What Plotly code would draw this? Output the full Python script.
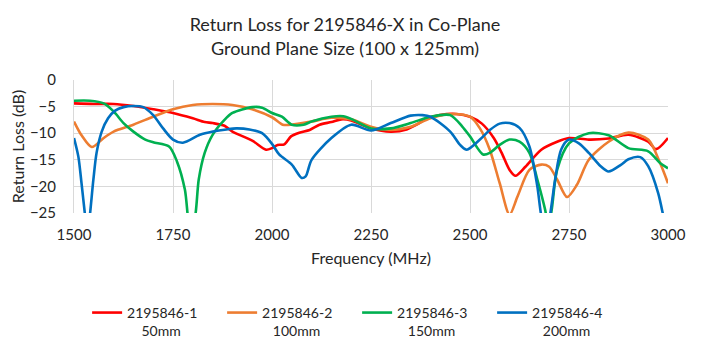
"""Return loss chart for 2195846-X in co-plane."""
import plotly.graph_objects as go

FONT = "Lato"
TEXT = "#262626"

# series 1 - 50mm
red_freq = [1500, 1550, 1600, 1650, 1700, 1750, 1800, 1830, 1850, 1880, 1900, 1950, 1985,
            2000, 2014, 2031, 2048, 2069, 2095, 2120, 2150, 2175, 2200, 2250, 2300, 2340,
            2365, 2387, 2424, 2466, 2500, 2530, 2560, 2580, 2600, 2615, 2640, 2680, 2720,
            2750, 2800, 2850, 2900, 2950, 2970, 3000]
red_rl = [-4.4, -4.5, -4.5, -4.9, -5.5, -6.2, -7.2, -7.9, -8.1, -8.6, -9.7, -11.4, -13.1,
          -12.8, -12.2, -12.1, -10.6, -9.9, -9.4, -8.4, -7.9, -7.4, -7.6, -9.1, -9.7, -9.3,
          -8.4, -7.4, -6.6, -6.4, -6.9, -8.2, -10.9, -13.7, -16.9, -18.0, -16.3, -13.1, -11.6,
          -10.9, -11.2, -11.0, -10.3, -11.6, -13.0, -10.9]

# series 2 - 100mm
orange_freq = [1500, 1520, 1545, 1575, 1600, 1650, 1700, 1750, 1800, 1850, 1900, 1950, 2000,
               2027, 2050, 2100, 2150, 2200, 2250, 2300, 2350, 2400, 2450, 2500, 2525, 2550,
               2575, 2600, 2620, 2650, 2680, 2700, 2720, 2745, 2770, 2800, 2850, 2900, 2950,
               2980, 3000]
orange_rl = [-7.8, -10.5, -12.6, -10.9, -9.7, -8.4, -6.9, -5.5, -4.7, -4.5, -4.7, -5.5, -7.0,
             -8.4, -8.4, -7.8, -7.1, -7.4, -8.8, -9.4, -8.8, -7.2, -6.4, -6.9, -9.1, -13.1,
             -19.4, -25.3, -21.9, -16.9, -15.9, -16.3, -18.7, -22.0, -19.7, -15.0, -11.6, -9.9,
             -11.2, -15.6, -19.4]

# series 3 - 150mm
green_freq = [1500, 1540, 1575, 1600, 1625, 1650, 1680, 1700, 1740, 1760, 1780, 1793, 1805,
              1815, 1830, 1850, 1880, 1900, 1950, 1975, 2000, 2025, 2050, 2080, 2100, 2150,
              2180, 2200, 2250, 2300, 2350, 2400, 2450, 2480, 2500, 2533, 2550, 2575, 2600,
              2625, 2650, 2670, 2690, 2698, 2707, 2720, 2750, 2800, 2850, 2900, 2950, 2980, 3000]
green_rl = [-3.9, -3.9, -4.4, -5.9, -8.1, -9.7, -11.2, -11.7, -12.5, -15.3, -20.6, -28.0,
            -26.0, -18.7, -13.7, -10.3, -7.5, -6.2, -5.1, -5.2, -6.2, -6.9, -8.4, -8.4, -7.8,
            -6.9, -6.8, -7.3, -9.1, -9.1, -8.1, -6.9, -6.6, -8.7, -10.6, -14.0, -13.7, -12.2,
            -11.2, -11.6, -13.7, -18.7, -24.5, -28.0, -24.0, -16.9, -11.9, -10.0, -10.4, -12.8,
            -13.4, -15.6, -16.6]

# series 4 - 200mm
blue_freq = [1500, 1511, 1519, 1528, 1534, 1540, 1549, 1557, 1570, 1586, 1603, 1625, 1650,
             1675, 1700, 1725, 1750, 1775, 1818, 1851, 1885, 1910, 1943, 1975, 2000, 2018,
             2050, 2075, 2085, 2100, 2150, 2200, 2250, 2300, 2350, 2380, 2400, 2450, 2475,
             2492, 2525, 2550, 2575, 2600, 2625, 2650, 2670, 2680, 2692, 2702, 2715, 2730,
             2750, 2775, 2800, 2830, 2850, 2880, 2900, 2930, 2950, 2975, 2988, 3000]
blue_rl = [-10.9, -14.4, -19.4, -25.5, -29.0, -25.5, -18.7, -13.7, -9.7, -7.2, -5.8, -5.1,
           -4.9, -5.1, -6.6, -9.1, -11.2, -11.8, -10.3, -9.7, -9.3, -9.1, -9.3, -10.0, -12.0,
           -14.0, -15.9, -18.4, -18.1, -15.0, -10.9, -8.4, -9.5, -8.1, -6.7, -6.6, -6.9, -9.7,
           -12.2, -13.1, -11.2, -9.4, -8.2, -8.1, -9.0, -12.5, -20.0, -25.5, -29.0, -25.5,
           -18.7, -13.1, -11.2, -11.9, -13.7, -16.2, -17.2, -16.0, -14.9, -14.5, -16.2, -21.2,
           -25.5, -30.0]

series = [
    ("2195846-1<br>\u00a0\u00a0\u00a0\u00a050mm", red_freq, red_rl, "#FF0000"),
    ("2195846-2<br>\u00a0\u00a0\u00a0100mm", orange_freq, orange_rl, "#ED7D31"),
    ("2195846-3<br>\u00a0\u00a0\u00a0150mm", green_freq, green_rl, "#00B050"),
    ("2195846-4<br>\u00a0\u00a0\u00a0200mm", blue_freq, blue_rl, "#0070C0"),
]

fig = go.Figure()
for name, f, rl, color in series:
    fig.add_trace(go.Scatter(
        x=f, y=rl, name=name, mode="lines",
        line=dict(color=color, width=2.6, shape="spline", smoothing=0.8),
    ))

# page body has an 8px margin, so the figure is 8px smaller and shifted
fig.update_layout(
    width=694, height=331,
    margin=dict(l=66, r=34, t=72, b=126),
    paper_bgcolor="white", plot_bgcolor="white",
    font=dict(family=FONT, size=15, color=TEXT),
    title=dict(
        text="Return Loss for 2195846-X in Co-Plane<br>Ground Plane Size (100 x 125mm)",
        x=0.4856, xanchor="center", xref="container",
        y=0.93, yanchor="top", yref="container",
        font=dict(family=FONT, size=18, color=TEXT),
    ),
    showlegend=True,
    legend=dict(
        orientation="h", xref="container", yref="container",
        x=0.114, xanchor="left", y=0.127, yanchor="top",
        entrywidth=90, entrywidthmode="pixels", valign="top",
        font=dict(family=FONT, size=14, color=TEXT),
        itemwidth=30, tracegroupgap=0,
    ),
)

fig.update_xaxes(
    range=[1500, 3000], tickvals=[1500, 1750, 2000, 2250, 2500, 2750, 3000],
    showgrid=True, gridcolor="#d9d9d9", gridwidth=1,
    zeroline=False, showline=False, automargin=False,
    ticks="outside", ticklen=8, tickcolor="rgba(0,0,0,0)",
    tickfont=dict(family=FONT, size=15),
    title=dict(text="Frequency (MHz)", font=dict(family=FONT, size=16), standoff=10),
)
fig.update_yaxes(
    range=[-25, 0], tickvals=[0, -5, -10, -15, -20, -25],
    showgrid=True, gridcolor="#d9d9d9", gridwidth=1,
    zeroline=False, showline=True, linecolor="#d9d9d9", automargin=False,
    ticks="outside", ticklen=14, tickcolor="rgba(0,0,0,0)",
    tickfont=dict(family=FONT, size=15),
    title=dict(text="Return Loss (dB)", font=dict(family=FONT, size=16), standoff=4),
)

fig.write_html("out.html")
